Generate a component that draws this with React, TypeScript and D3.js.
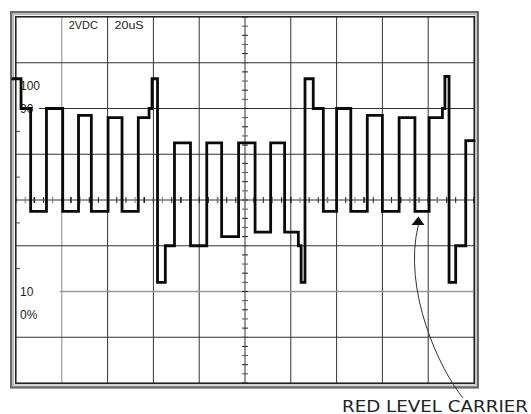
import React from 'react';
import * as d3 from 'd3';

// Oscilloscope settings
const voltsPerDiv = 2; // 2VDC
const timePerDiv = 20; // 20uS
const settingLabels = ['2VDC', '20uS'];

// Trace: step transitions (µs) and level held after each transition (V)
const edgeTimes = [-1.3, 2.2, 6.4, 13.3, 20.4, 27.3, 32.9, 40.2, 46.3, 53.4, 58.1, 59.4, 61.8, 65.2, 69.2, 76.2, 83.3, 89.8, 97.2, 104.4, 111.2, 117.3, 123.3, 124.5, 126.2, 129.8, 134.2, 140.0, 146.2, 153.4, 160.0, 167.3, 174.2, 180.4, 186.2, 187.3, 189.1, 192.0, 196.4, 200];
const levels = [5.3, 4.0, -0.5, 4.0, -0.5, 3.7, -0.5, 3.6, -0.5, 3.6, 4.0, 5.3, -3.6, -2.0, 2.5, -2.0, 2.5, -1.6, 2.5, -1.4, 2.5, -1.4, -2.0, -3.6, 5.3, 4.0, -0.5, 4.0, -0.5, 3.7, -0.5, 3.6, -0.5, 3.6, 4.0, 5.4, -3.6, -2.0, 2.6];

// Percent graticule markers (value in V)
const percentLabels = ['100', '90', '10', '0%'];
const percentLevels = [5, 4, -4, -5];

const annotationText = 'RED LEVEL CARRIER';
const annotationTime = 176.4;
const annotationLevel = -0.5;

const W = 531;
const H = 414;

export default function App() {
  const x = d3.scaleLinear().domain([0, timePerDiv * 10]).range([16, 474]);
  const y = d3.scaleLinear().domain([-voltsPerDiv * 4, voltsPerDiv * 4]).range([383, 17]);

  const timeTicks = d3.range(0, timePerDiv * 10 + 0.001, timePerDiv);
  const voltTicks = d3.range(-voltsPerDiv * 4, voltsPerDiv * 4 + 0.001, voltsPerDiv);
  const minorT = d3.range(0, timePerDiv * 10 + 0.001, timePerDiv / 5);
  const minorV = d3.range(-voltsPerDiv * 4, voltsPerDiv * 4 + 0.001, voltsPerDiv / 5);
  const edgeMinor = [-3, -1, 1, 3];

  const pts: [number, number][] = edgeTimes.map((t, i) => [t, levels[Math.min(i, levels.length - 1)]]);
  const line = d3.line<[number, number]>().x((d) => x(d[0])).y((d) => y(d[1])).curve(d3.curveStepAfter);

  const cx = x(timePerDiv * 5);
  const cy = y(0);

  const tipX = x(annotationTime) - 1.5;
  const tipY = y(annotationLevel) + 5;

  return (
    <svg width={W} height={H} style={{ position: 'absolute', left: 0, top: 0, background: '#fff' }} fontFamily="'Liberation Sans', Arial, sans-serif">
      {/* frame */}
      <rect x={11.2} y={12.2} width={466.6} height={375.2} fill="none" stroke="#6a6a6a" strokeWidth={2.4} />
      <rect x={13.6} y={14.6} width={461.6} height={370.4} fill="none" stroke="#aaa" strokeWidth={1} />
      {/* grid verticals */}
      {timeTicks.map((t, i) => (
        <line key={'v' + i} x1={x(t)} x2={x(t)} y1={y(8)} y2={y(-8)} stroke={t === 20 ? '#8a8a8a' : '#333'} strokeWidth={1} />
      ))}
      {/* grid horizontals */}
      {voltTicks.map((v, i) => {
        let x1 = x(0);
        let col = '#333';
        if (v === 4) x1 = 39;
        if (v === -4) { x1 = x(20) - 2; col = '#999'; }
        return <line key={'h' + i} x1={x1} x2={x(200)} y1={y(v)} y2={y(v)} stroke={col} strokeWidth={v === -4 ? 1.3 : 1} />;
      })}
      <rect x={15.6} y={16.6} width={458.8} height={366.8} fill="none" stroke="#222" strokeWidth={1.2} />
      {/* center minor ticks */}
      {minorV.map((v, i) => (
        <line key={'mv' + i} x1={cx - 3} x2={cx + 3} y1={y(v)} y2={y(v)} stroke={i % 2 ? '#555' : '#222'} strokeWidth={1} />
      ))}
      {minorT.map((t, i) => (
        <line key={'mt' + i} x1={x(t)} x2={x(t)} y1={cy - 3} y2={cy + 3} stroke={i % 3 === 1 ? '#777' : '#222'} strokeWidth={i % 4 === 2 ? 1.6 : 1} />
      ))}
      {edgeMinor.map((v, i) => (
        <line key={'em' + i} x1={x(0)} x2={x(0) + 4} y1={y(v)} y2={y(v)} stroke="#444" strokeWidth={1} />
      ))}
      {/* settings */}
      {settingLabels.map((s, i) => (
        <text key={s} x={x(timePerDiv * (i + 1)) + 7} y={29} fontSize={11.5} fill="#222" textLength={29} lengthAdjust="spacingAndGlyphs">{s}</text>
      ))}
      {/* percent labels */}
      {percentLabels.map((s, i) => (
        <text key={s} x={20} y={y(percentLevels[i]) + 4.5} fontSize={12} fill="#222">{s}</text>
      ))}
      {/* trace */}
      <path d={line(pts) || ''} fill="none" stroke="#0a0a0a" strokeWidth={2.8} strokeLinejoin="miter" strokeLinecap="square" />
      {/* annotation */}
      <path d={`M463,398 C440,370 402,290 ${tipX},${tipY + 8}`} fill="none" stroke="#333" strokeWidth={1} />
      <path d={`M${tipX},${tipY} L${tipX - 7},${tipY + 8.5} L${tipX + 6},${tipY + 8.5} Z`} fill="#111" />
      <text x={342} y={411.5} fontSize={15.5} fill="#222" fontFamily="'DejaVu Sans', sans-serif" textLength={186} lengthAdjust="spacingAndGlyphs">{annotationText}</text>
    </svg>
  );
}
